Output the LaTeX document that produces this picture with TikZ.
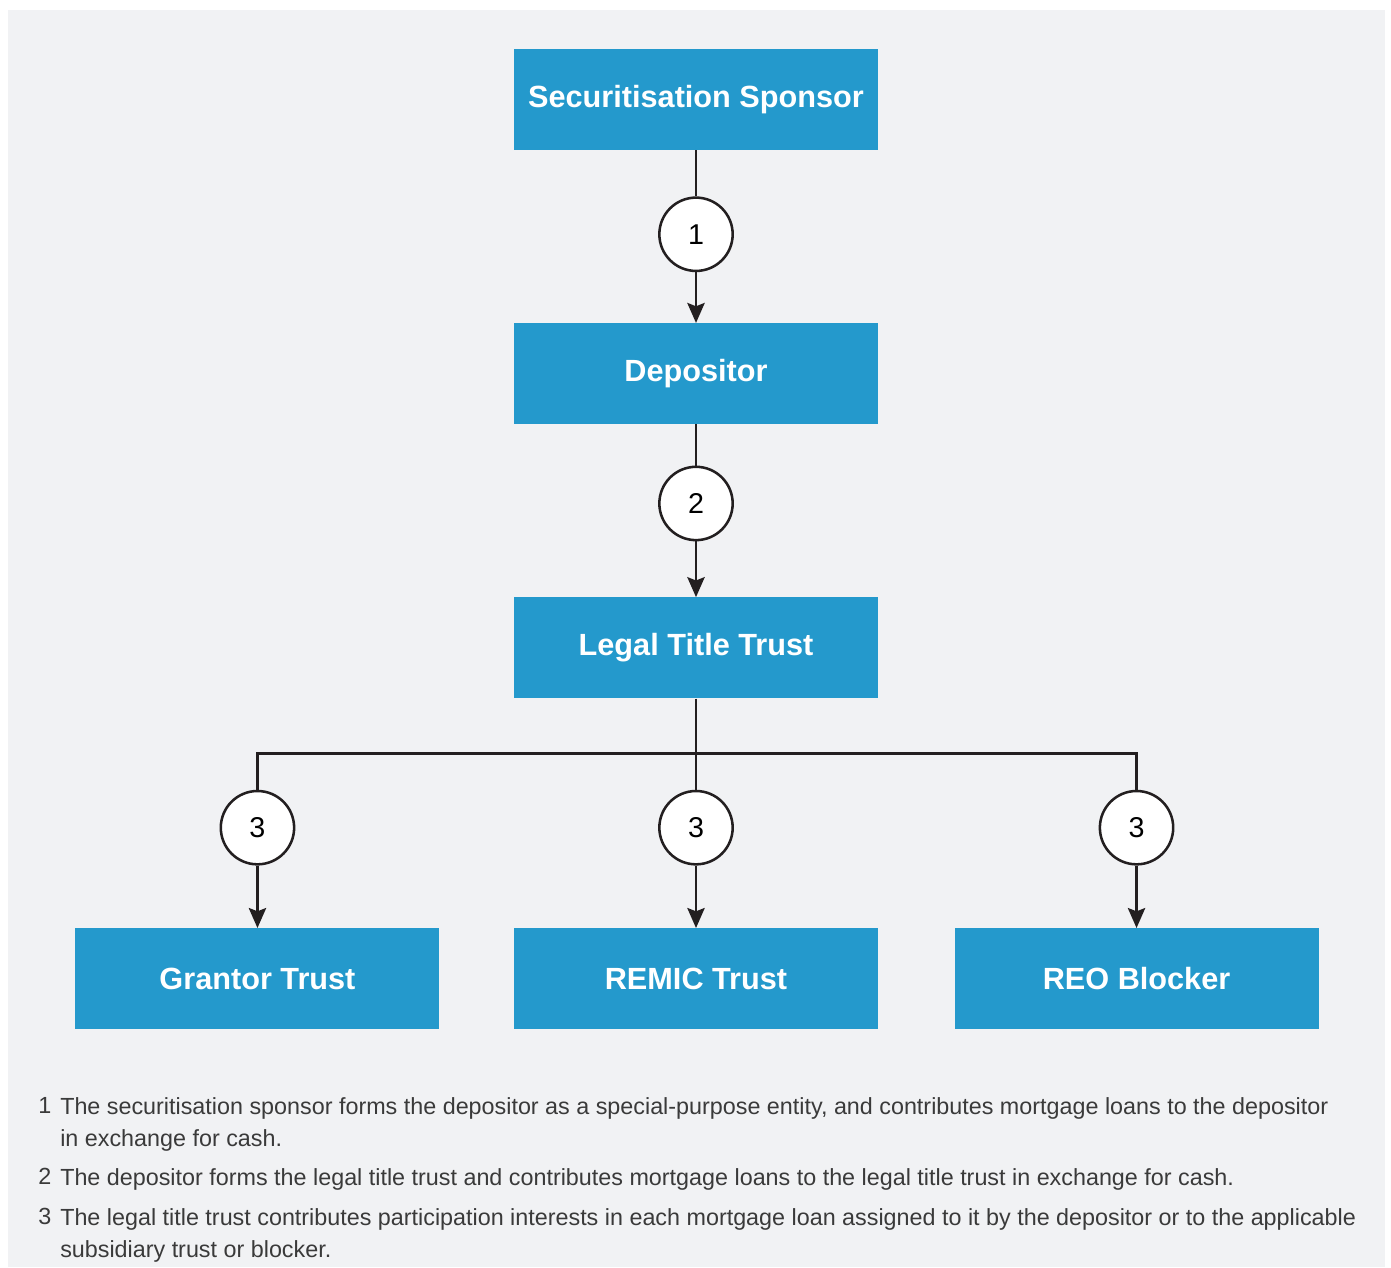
\documentclass[tikz,border=0pt]{standalone}
\usepackage{fontspec}
\setmainfont{Liberation Sans}
\usetikzlibrary{positioning,arrows.meta,calc}
\definecolor{boxblue}{RGB}{36,153,204}
\definecolor{panel}{RGB}{241,242,244}
\definecolor{ink}{RGB}{35,31,32}
\definecolor{notegray}{RGB}{58,58,58}

\begin{document}
\begin{tikzpicture}[x=0.75pt, y=-0.75pt,
			entity/.style={fill=boxblue, text=white, font=\fontsize{23}{27}\selectfont\bfseries, minimum width=273pt, minimum height=75.75pt, inner sep=0pt},
			stepmark/.style={circle, draw=ink, line width=1.9pt, fill=white, minimum size=55pt, inner sep=0pt, font=\fontsize{21.5}{25}\selectfont},
			link/.style={draw=ink, line width=1.9pt},
			arrow/.style={link, -{Stealth[length=15pt, width=13pt, inset=2.5pt]}},
			note/.style={anchor=north west, inner sep=0pt, align=left, text=notegray, font=\fontsize{17.5}{24}\selectfont}
		]

		\useasboundingbox (0,0) rectangle (1391,1267);
		\fill[panel] (8,10) rectangle (1385,1267);

		% entities
		\node[entity] (sponsor) at (696,99.5) {Securitisation Sponsor};
		\node[entity, below=129.5pt of sponsor] (depositor) {Depositor};
		\node[entity, below=129.5pt of depositor] (legal) {Legal Title Trust};
		\node[entity, below=172pt of legal] (remic) {REMIC Trust};
		\node[entity, left=55.5pt of remic] (grantor) {Grantor Trust};
		\node[entity, right=57pt of remic] (reo) {REO Blocker};

		% step markers
		\node[stepmark] (s1) at ($(sponsor.south)+(0,84)$) {1};
		\node[stepmark] (s2) at ($(depositor.south)+(0,79)$) {2};
		\coordinate (split) at ($(legal.south)+(0,55)$);
		\node[stepmark] (s3b) at ($(split)+(0,74)$) {3};
		\node[stepmark] (s3a) at (s3b -| grantor) {3};
		\node[stepmark] (s3c) at (s3b -| reo) {3};

		\draw[link] (sponsor) -- (s1);
		\draw[arrow] (s1) -- (depositor);
		\draw[link] (depositor) -- (s2);
		\draw[arrow] (s2) -- (legal);
		\draw[link] (legal) -- (split) -- (s3b);
		\draw[link] (s3a) |- (split) -| (s3c);
		\draw[arrow] (s3a) -- (grantor);
		\draw[arrow] (s3b) -- (remic);
		\draw[arrow] (s3c) -- (reo);

		% notes
		\node[note] (k1) at (38,1097) {1};
		\node[note] (n1) at (60,1097) {The securitisation sponsor forms the depositor as a special-purpose entity, and contributes mortgage loans to the depositor\\in exchange for cash.};
		\node[note] (k2) at (38,1168) {2};
		\node[note] (n2) at (60,1168) {The depositor forms the legal title trust and contributes mortgage loans to the legal title trust in exchange for cash.};
		\node[note] (k3) at (38,1208) {3};
		\node[note] (n3) at (60,1208) {The legal title trust contributes participation interests in each mortgage loan assigned to it by the depositor or to the applicable\\subsidiary trust or blocker.};

	\end{tikzpicture}
\end{document}
